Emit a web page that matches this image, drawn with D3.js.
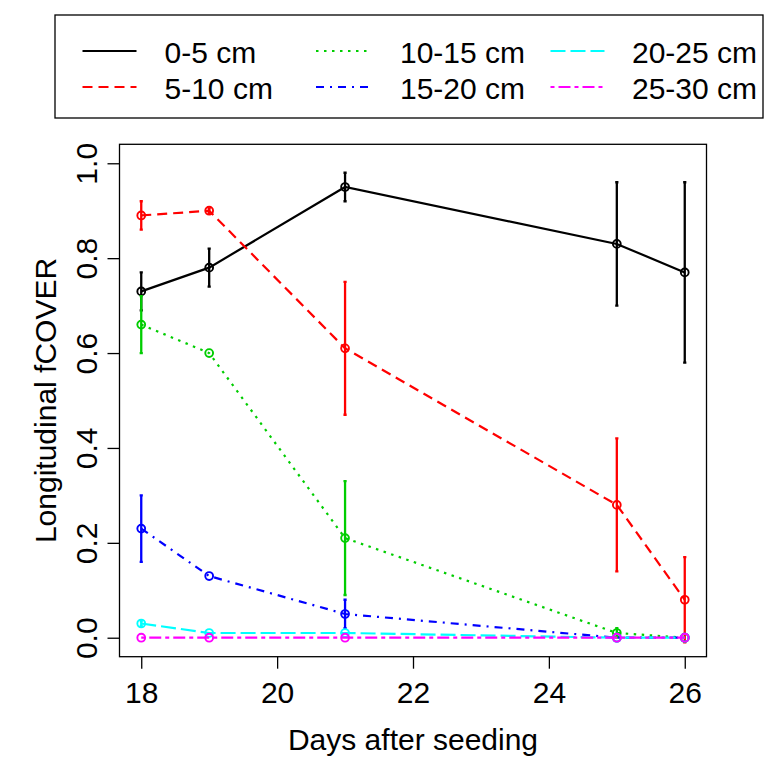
<!DOCTYPE html>
<html>
<head>
<meta charset="utf-8">
<script src="https://cdn.jsdelivr.net/npm/d3@7"></script>
<style>
  html, body { margin: 0; padding: 0; background: #fff; }
  svg { display: block; font-family: "Liberation Sans", Arial, sans-serif; }
</style>
</head>
<body>
<svg id="chart" width="778" height="777"></svg>
<script>
// ---- data ----
const days = [18, 19, 21, 25, 26];
const seriesNames = ["0-5 cm", "5-10 cm", "10-15 cm", "15-20 cm", "20-25 cm", "25-30 cm"];
const mean_0_5   = [0.73, 0.78, 0.95, 0.83, 0.77];
const err_0_5    = [0.04, 0.04, 0.03, 0.13, 0.19];
const mean_5_10  = [0.89, 0.90, 0.61, 0.28, 0.08];
const err_5_10   = [0.03, 0.005, 0.14, 0.14, 0.09];
const mean_10_15 = [0.66, 0.60, 0.21, 0.01, 0.00];
const err_10_15  = [0.06, 0.00, 0.12, 0.01, 0.00];
const mean_15_20 = [0.23, 0.13, 0.05, 0.00, 0.00];
const err_15_20  = [0.07, 0.00, 0.03, 0.00, 0.00];
const mean_20_25 = [0.03, 0.01, 0.01, 0.00, 0.00];
const err_20_25  = [0.005, 0.00, 0.00, 0.00, 0.00];
const mean_25_30 = [0.00, 0.00, 0.00, 0.00, 0.00];
const err_25_30  = [0.00, 0.00, 0.00, 0.00, 0.00];
const xTicks = [18, 20, 22, 24, 26];
const yTicks = [0.0, 0.2, 0.4, 0.6, 0.8, 1.0];

const means = [mean_0_5, mean_5_10, mean_10_15, mean_15_20, mean_20_25, mean_25_30];
const errs  = [err_0_5, err_5_10, err_10_15, err_15_20, err_20_25, err_25_30];
const colors = ["#000000", "#FF0000", "#00CD00", "#0000FF", "#00FFFF", "#FF00FF"];
const dashes = [null, "10,6", "2.5,5.5", "8,6,2,6", "15,5", "4,4,12,4"];

// ---- layout ----
const svg = d3.select("#chart");
const L = 119.5, R = 706.5, T = 144.3, B = 656.7;
const x = d3.scaleLinear().domain([17.68, 26.32]).range([L, R]);
const y = d3.scaleLinear().domain([-0.04, 1.04]).range([B, T]);
const FS = 30;

// series
seriesNames.forEach((name, i) => {
  const g = svg.append("g");
  const pts = days.map((d, j) => ({d, v: means[i][j], e: errs[i][j]}));
  const line = d3.line().x(p => x(p.d)).y(p => y(p.v));
  g.append("path").datum(pts).attr("d", line)
    .attr("fill", "none").attr("stroke", colors[i]).attr("stroke-width", 2.2)
    .attr("stroke-dasharray", dashes[i]);
  g.selectAll("circle").data(pts).join("circle")
    .attr("cx", p => x(p.d)).attr("cy", p => y(p.v)).attr("r", 3.9)
    .attr("fill", "none").attr("stroke", colors[i]).attr("stroke-width", 1.9);
  const eb = pts.filter(p => p.e > 0);
  const cw = 1.6;
  g.selectAll("path.eb").data(eb).join("path").attr("class", "eb")
    .attr("d", p => {
      const cx = x(p.d), y1 = y(p.v + p.e), y2 = y(p.v - p.e);
      return `M${cx},${y1}L${cx},${y2}M${cx - cw},${y1}L${cx + cw},${y1}M${cx - cw},${y2}L${cx + cw},${y2}`;
    })
    .attr("fill", "none").attr("stroke", colors[i]).attr("stroke-width", 2.3);
});

// box
svg.append("rect").attr("x", L).attr("y", T).attr("width", R - L).attr("height", B - T)
  .attr("fill", "none").attr("stroke", "#000").attr("stroke-width", 1.3);

// x axis
const gx = svg.append("g").attr("transform", `translate(0,${B})`)
  .call(d3.axisBottom(x).tickValues(xTicks).tickFormat(d3.format("d")).tickSize(12).tickPadding(13));
gx.select(".domain").remove();
gx.selectAll("line").attr("stroke", "#000").attr("stroke-width", 1.3);
gx.selectAll("text").attr("font-size", FS).attr("font-family", "Liberation Sans, Arial, sans-serif").attr("fill", "#000");

// y axis
const gy = svg.append("g").attr("transform", `translate(${L},0)`)
  .call(d3.axisLeft(y).tickValues(yTicks).tickFormat(d3.format(".1f")).tickSize(12));
gy.select(".domain").remove();
gy.selectAll("line").attr("stroke", "#000").attr("stroke-width", 1.3);
gy.selectAll("text").attr("font-size", FS).attr("font-family", "Liberation Sans, Arial, sans-serif").attr("fill", "#000")
  .attr("x", null).attr("dy", null).attr("text-anchor", "middle")
  .attr("transform", "translate(-23,0) rotate(-90)");

// axis titles
svg.append("text").attr("x", (L + R) / 2).attr("y", 750).attr("text-anchor", "middle")
  .attr("font-size", FS).text("Days after seeding");
svg.append("text").attr("text-anchor", "middle").attr("font-size", FS)
  .attr("transform", `translate(56,${(T + B) / 2}) rotate(-90)`).text("Longitudinal fCOVER");

// legend
const lg = svg.append("g");
lg.append("rect").attr("x", 55).attr("y", 15).attr("width", 708).attr("height", 103)
  .attr("fill", "#fff").attr("stroke", "#000").attr("stroke-width", 1.3);
const colLineX = [82.5, 316, 550.5];
const colTextX = [164.5, 400, 632];
const rowY = [51, 87];
seriesNames.forEach((name, i) => {
  const c = Math.floor(i / 2), r = i % 2;
  lg.append("line").attr("x1", colLineX[c]).attr("x2", colLineX[c] + 54)
    .attr("y1", rowY[r]).attr("y2", rowY[r])
    .attr("stroke", colors[i]).attr("stroke-width", 2.2).attr("stroke-dasharray", dashes[i]);
  lg.append("text").attr("x", colTextX[c]).attr("y", rowY[r] + 12).attr("font-size", FS).text(name);
});
</script>
</body>
</html>
